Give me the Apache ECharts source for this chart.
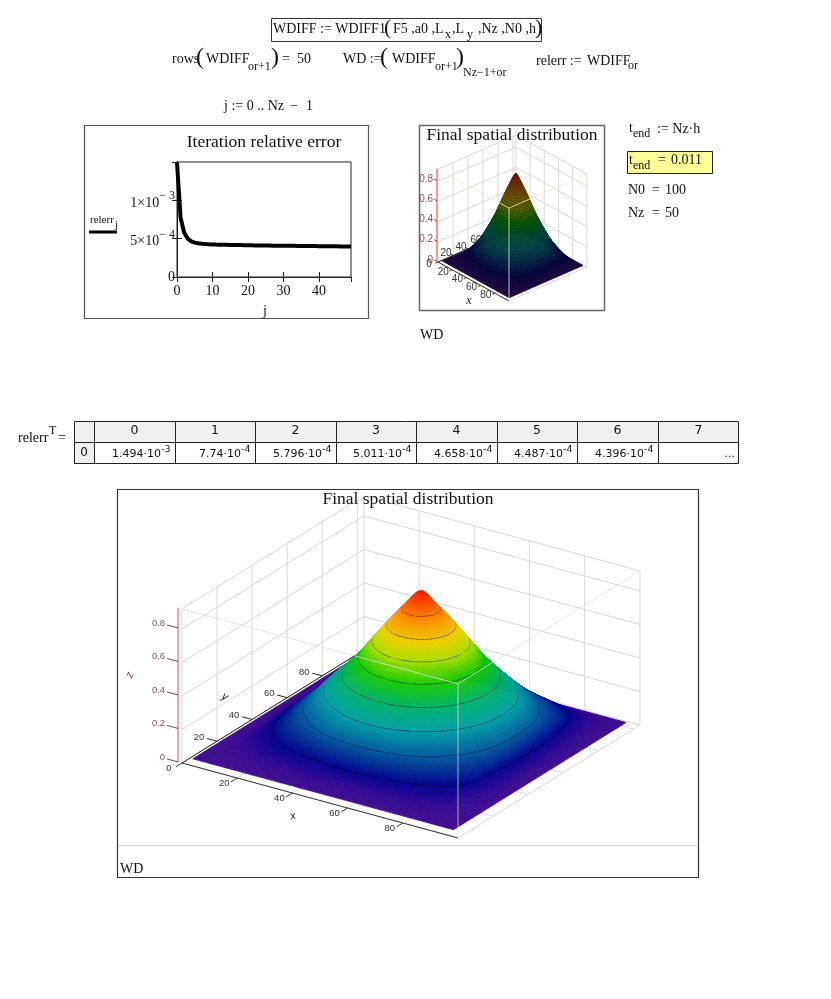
<!DOCTYPE html>
<html><head><meta charset="utf-8">
<style>html,body{margin:0;padding:0;background:#fff}#c{width:831px;height:999px}</style>
<script src="https://cdn.jsdelivr.net/npm/echarts@6/dist/echarts.min.js"></script>
</head><body><div id="c"></div>
<script>
// ---- data ----
const iterations = [0,1,2,3,4,5,6,7,8,9,10,11,12,13,14,15,16,17,18,19,20,21,22,23,24,25,26,27,28,29,30,31,32,33,34,35,36,37,38,39,40,41,42,43,44,45,46,47,48,49];
const relerr = [1.494e-3,7.74e-4,5.796e-4,5.011e-4,4.658e-4,4.487e-4,4.396e-4,4.34e-4,4.30e-4,4.27e-4,4.25e-4,4.23e-4,4.22e-4,4.21e-4,4.20e-4,4.19e-4,4.18e-4,4.17e-4,4.16e-4,4.15e-4,4.14e-4,4.13e-4,4.12e-4,4.12e-4,4.11e-4,4.10e-4,4.10e-4,4.09e-4,4.08e-4,4.08e-4,4.07e-4,4.07e-4,4.06e-4,4.06e-4,4.05e-4,4.05e-4,4.04e-4,4.04e-4,4.03e-4,4.03e-4,4.02e-4,4.02e-4,4.01e-4,4.01e-4,4.00e-4,4.00e-4,3.99e-4,3.99e-4,3.98e-4,3.98e-4];
const tableHead = ['0','1','2','3','4','5','6','7'];
const tableMantissa = ['1.494·10','7.74·10','5.796·10','5.011·10','4.658·10','4.487·10','4.396·10'];
const tableExponent = ['-3','-4','-4','-4','-4','-4','-4'];
const surfaceX = [1,7,12,17,22,27,32,37,42,47,52,57,62,67,72,77,82,87,90,93,95.5];
const surfaceY = [4.5,9.5,14.5,19.5,24.5,29.5,34.5,39.5,44.5,49.5,54.5,59.5,64.5,69.5,74.5,79.5,84.5,89.5,94.5,99.5,103];
const surfaceZ = [
[0,0,0,0,0,0,0,0,0,0,0,0,0,0,0,0,0,0,0,0,0],
[0,.002,.007,.013,.019,.023,.027,.031,.034,.036,.037,.036,.034,.031,.027,.023,.019,.013,.007,.002,0],
[0,.007,.026,.044,.06,.075,.089,.102,.112,.118,.12,.118,.112,.102,.089,.075,.06,.044,.026,.007,0],
[0,.013,.044,.071,.098,.122,.144,.165,.18,.19,.193,.19,.18,.165,.144,.122,.098,.071,.044,.013,0],
[0,.019,.06,.098,.138,.17,.199,.235,.267,.288,.295,.288,.267,.235,.199,.17,.138,.098,.06,.019,0],
[0,.023,.075,.122,.17,.206,.261,.31,.35,.376,.385,.376,.35,.31,.261,.206,.17,.122,.075,.023,0],
[0,.027,.089,.144,.199,.261,.326,.385,.435,.468,.48,.468,.435,.385,.326,.261,.199,.144,.089,.027,0],
[0,.031,.102,.165,.235,.31,.385,.457,.527,.581,.60,.581,.527,.457,.385,.31,.235,.165,.102,.031,0],
[0,.034,.112,.18,.267,.35,.435,.527,.62,.688,.715,.688,.62,.527,.435,.35,.267,.18,.112,.034,0],
[0,.036,.118,.19,.288,.376,.468,.581,.688,.777,.82,.777,.688,.581,.468,.376,.288,.19,.118,.036,0],
[0,.037,.12,.193,.295,.385,.48,.60,.715,.82,.905,.82,.715,.60,.48,.385,.295,.193,.12,.037,0],
[0,.036,.118,.19,.288,.376,.468,.581,.688,.777,.82,.777,.688,.581,.468,.376,.288,.19,.118,.036,0],
[0,.034,.112,.18,.267,.35,.435,.527,.62,.688,.715,.688,.62,.527,.435,.35,.267,.18,.112,.034,0],
[0,.031,.102,.165,.235,.31,.385,.457,.527,.581,.60,.581,.527,.457,.385,.31,.235,.165,.102,.031,0],
[0,.027,.089,.144,.199,.261,.326,.385,.435,.468,.48,.468,.435,.385,.326,.261,.199,.144,.089,.027,0],
[0,.023,.075,.122,.17,.206,.261,.31,.35,.376,.385,.376,.35,.31,.261,.206,.17,.122,.075,.023,0],
[0,.019,.06,.098,.138,.17,.199,.235,.267,.288,.295,.288,.267,.235,.199,.17,.138,.098,.06,.019,0],
[0,.013,.044,.071,.098,.122,.144,.165,.18,.19,.193,.19,.18,.165,.144,.122,.098,.071,.044,.013,0],
[0,.007,.024,.04,.054,.068,.08,.092,.101,.106,.108,.106,.101,.092,.08,.068,.054,.04,.024,.007,0],
[0,.002,.009,.015,.021,.026,.031,.036,.039,.041,.042,.041,.039,.036,.031,.026,.021,.015,.009,.002,0],
[0,0,0,0,0,0,0,0,0,0,0,0,0,0,0,0,0,0,0,0,0]
];
const xyTicks = [20,40,60,80];
const zTicks = [0.2,0.4,0.6,0.8];
const contourLevels = [0.1,0.2,0.3,0.4,0.5,0.6,0.7,0.8];
const colorStops = [[0,[62,10,142]],[0.04,[44,6,146]],[0.1,[0,0,140]],[0.2,[0,90,158]],[0.3,[0,158,166]],[0.4,[0,178,104]],[0.5,[24,204,0]],[0.6,[176,224,0]],[0.68,[240,208,0]],[0.78,[255,140,0]],[0.9,[255,32,0]]];

// ---- layout ----
const SERIF='"Liberation Serif"', SANS='"Liberation Sans"';
const X_MAX=100, Y_MAX=103.8, Z_MAX=0.92;
const bigView={o:[182,763],ex:[2.76,.75],ey:[1.753,-1.089],ez:-167.5,sub:6};
const smallView={o:[438,262],ex:[.71,.39],ey:[.75,-.328],ez:-101,sub:2};

function proj(v,x,y,z){return [v.o[0]+v.ex[0]*x+v.ey[0]*y, v.o[1]+v.ex[1]*x+v.ey[1]*y+v.ez*z];}
function cmap(z){
  for(let k=1;k<colorStops.length;k++){ if(z<=colorStops[k][0]){
    const a=colorStops[k-1],b=colorStops[k],t=(z-a[0])/(b[0]-a[0]);
    return [0,1,2].map(c=>a[1][c]+(b[1][c]-a[1][c])*Math.max(0,t));}}
  return colorStops[colorStops.length-1][1];
}
function rgb(c,m,a){m=m||1;return 'rgba('+c.map(v=>Math.round(v*m)).join(',')+','+(a==null?1:a)+')';}
function cr(p0,p1,p2,p3,t){return .5*(2*p1+(p2-p0)*t+(2*p0-5*p1+4*p2-p3)*t*t+(3*p1-p0-3*p2+p3)*t*t*t);}
function at(a,i){return a[Math.max(0,Math.min(a.length-1,i))];}
function sampleZ(u,v){
  const iu=Math.min(19,Math.floor(u)),iv=Math.min(19,Math.floor(v)),fu=u-iu,fv=v-iv,col=[];
  for(let a=-1;a<=2;a++){const r=at(surfaceZ,iu+a);col.push(cr(at(r,iv-1),at(r,iv),at(r,iv+1),at(r,iv+2),fv));}
  return Math.max(0,cr(col[0],col[1],col[2],col[3],fu));
}
function lin(a,u){const i=Math.min(a.length-2,Math.floor(u));return a[i]+(a[i+1]-a[i])*(u-i);}

function surfaceSeries(v,style){
  const S=v.sub,N=20*S+1,zg=[],pg=[];
  for(let a=0;a<N;a++){zg.push([]);pg.push([]);for(let b=0;b<N;b++){
    const z=sampleZ(a/S,b/S);zg[a].push(z);pg[a].push(proj(v,lin(surfaceX,a/S),lin(surfaceY,b/S),z));}}
  const cells=[];
  for(let i=0;i<20;i++)for(let j=19;j>=0;j--)cells.push([surfaceX[i],surfaceY[j],i,j]);
  return {type:'custom',coordinateSystem:'cartesian2d',xAxisIndex:2,yAxisIndex:2,z:5,silent:true,animation:false,progressive:0,
    encode:{x:0,y:1},data:cells,
    renderItem(params,api){
      const c=cells[params.dataIndex],ch=[];
      for(let si=0;si<S;si++)for(let sj=S-1;sj>=0;sj--){
        const a=c[2]*S+si,b=c[3]*S+sj;
        const qa=[[a,b],[a+1,b],[a+1,b+1],[a,b+1]];
        const pts=qa.map(q=>api.coord(pg[q[0]][q[1]])),zs=qa.map(q=>zg[q[0]][q[1]]);
        const avg=(zs[0]+zs[1]+zs[2]+zs[3])/4;
        const fill=style.fill(avg);
        ch.push({type:'polygon',shape:{points:pts},style:{fill:fill,stroke:style.stroke?style.stroke:fill,lineWidth:style.sw||.6}});
        style.levels.forEach(L=>{
          const cross=[];
          for(let e=0;e<4;e++){const f=(e+1)%4,z0=zs[e],z1=zs[f];
            if((z0<L)!==(z1<L)){const t=(L-z0)/(z1-z0);cross.push([pts[e][0]+(pts[f][0]-pts[e][0])*t,pts[e][1]+(pts[f][1]-pts[e][1])*t]);}}
          if(cross.length>=2)ch.push({type:'line',shape:{x1:cross[0][0],y1:cross[0][1],x2:cross[1][0],y2:cross[1][1]},style:{stroke:style.lineColor(L),lineWidth:style.lw}});
        });
      }
      return {type:'group',children:ch};
    }};
}
function segSeries(v,segs,color,width,z){
  return {type:'custom',coordinateSystem:'cartesian2d',xAxisIndex:2,yAxisIndex:2,z:z,silent:true,animation:false,progressive:0,
    encode:{x:0,y:1},data:segs.map(s=>[Math.abs(s[0]),Math.abs(s[1])]),
    renderItem(params,api){
      const s=segs[params.dataIndex],p=api.coord(proj(v,s[0],s[1],s[2])),q=api.coord(proj(v,s[3],s[4],s[5]));
      return {type:'line',shape:{x1:p[0],y1:p[1],x2:q[0],y2:q[1]},style:{stroke:color,lineWidth:width}};
    }};
}
function labelSeries(v,items,opt,z){
  return {type:'custom',coordinateSystem:'cartesian2d',xAxisIndex:2,yAxisIndex:2,z:z,silent:true,animation:false,progressive:0,
    encode:{x:0,y:1},data:items.map(s=>[Math.abs(s[0]),Math.abs(s[1])]),
    renderItem(params,api){
      const s=items[params.dataIndex],p=api.coord(proj(v,s[0],s[1],s[2]));
      return {type:'text',style:{text:s[3],x:p[0]+opt.dx,y:p[1]+opt.dy,font:opt.font,fill:opt.fill,align:opt.align||'center',verticalAlign:'middle'}};
    }};
}
function wallSegs(){
  const s=[],zs=[0].concat(zTicks,[Z_MAX]),grid=[0].concat(xyTicks,[100]);
  grid.forEach(y=>s.push([0,y,0,0,y,Z_MAX]));
  s.push([0,Y_MAX,0,0,Y_MAX,Z_MAX]);
  zs.forEach(z=>{s.push([0,0,z,0,Y_MAX,z]);s.push([0,Y_MAX,z,X_MAX,Y_MAX,z]);});
  grid.slice(1).forEach(x=>s.push([x,Y_MAX,0,x,Y_MAX,Z_MAX]));
  grid.forEach(x=>s.push([x,0,0,x,Y_MAX,0]));
  grid.forEach(y=>s.push([0,y,0,X_MAX,y,0]));
  return s;
}
const frontSegs=[[X_MAX,0,0,X_MAX,0,Z_MAX],[0,0,Z_MAX,X_MAX,0,Z_MAX],[X_MAX,0,Z_MAX,X_MAX,Y_MAX,Z_MAX]];
const xTickSegs=[0].concat(xyTicks).map(x=>[x,-3.5,0,x,0,0]).concat([[0,0,0,X_MAX,0,0]]);
const yTickSegs=xyTicks.map(y=>[-3.6,y,0,0,y,0]).concat([[0,0,0,0,Y_MAX,0]]);
const zTickSegs=[0].concat(zTicks).map(z=>[-5.4,0,z,-1.45,0,z]);
const zAxisSeg=[[-1.45,0,0,-1.45,0,Z_MAX]];
const xLabels=[0].concat(xyTicks).map(x=>[x,0,0,String(x)]);
const yLabels=xyTicks.map(y=>[0,y,0,String(y)]);
const zLabels=[0].concat(zTicks).map(z=>[-5.4,0,z,String(z)]);

function plot3d(v,o){
  return [
    segSeries(v,wallSegs(),'#d9d9d9',1,2),
    segSeries(v,zAxisSeg,'#d66a6a',1.2,3),
    segSeries(v,zTickSegs,'#8a3a4a',1,3),
    labelSeries(v,zLabels,{dx:o.zdx,dy:o.zdy,font:o.font,fill:'#8a4f60',align:'right'},3),
    segSeries(v,yTickSegs,'#222',1,3),
    labelSeries(v,yLabels,{dx:o.ydx,dy:o.ydy,font:o.font,fill:'#333'},3),
    segSeries(v,xTickSegs,'#333',1,3),
    labelSeries(v,xLabels,{dx:o.xdx,dy:o.xdy,font:o.font,fill:'#333'},3),
    surfaceSeries(v,o.surface),
    segSeries(v,frontSegs,o.front,1,8)
  ];
}
const bigSeries=plot3d(bigView,{font:'9.5px '+SANS,xdx:-13,xdy:5,ydx:-18,ydy:-4,zdx:-2,zdy:-2,front:'rgba(222,222,222,.75)',
  surface:{fill:z=>rgb(cmap(z)),levels:contourLevels,lineColor:()=>'rgba(0,0,0,.6)',lw:.8}});
const smallSeries=plot3d(smallView,{font:'10px '+SANS,xdx:-9,xdy:2,ydx:-7,ydy:-2,zdx:-1,zdy:0,front:'rgba(235,235,215,.8)',
  surface:{fill:z=>rgb(cmap(z),.38),levels:[.02,.045,.07,.095,.12,.145,.17,.195,.22,.245,.27,.295,.32,.345,.37,.395,.42,.445,.47,.495,.52,.545,.57,.595,.62,.645,.67,.695,.72,.745,.77,.795,.82,.845,.87],
    lineColor:L=>rgb(cmap(L),.8,.5),lw:.5,sw:.6}});

// ---- text & frames ----
const G=[];
function txt(s,x,y,size,o){o=o||{};G.push({type:'text',silent:true,z:o.z||20,style:{text:s,x:x,y:y,font:(o.style?o.style+' ':'')+size+'px '+(o.fam||SERIF),fill:o.fill||'#111',align:o.align||'left',verticalAlign:'middle'},rotation:o.rot||0,originX:x,originY:y});}
function box(x,y,w,h,stroke,lw,fill,z){G.push({type:'rect',silent:true,z:z||1,shape:{x:x,y:y,width:w,height:h},style:{fill:fill||'none',stroke:stroke,lineWidth:lw}});}
function hline(x1,y1,x2,y2,c,lw){G.push({type:'line',silent:true,z:2,shape:{x1,y1,x2,y2},style:{stroke:c,lineWidth:lw}});}

// formula row 1
box(271.5,18.5,270,23,'#333',1);
txt('WDIFF := WDIFF1',273,29,14);
txt('(',384,28,22);
txt('F5 ,a0 ,L',393,29,14);txt('x',445,35,12);
txt(',L',452,29,14);txt('y',467,35,12);
txt(',Nz ,N0 ,h',478,29,14);
txt(')',535,28,22);
// formula row 2
txt('rows',172,59,14);txt('(',196,58,24);txt('WDIFF',206,59,14);txt('or+1',248,67,12);txt(')',271,58,24);txt('=',282,59,14);txt('50',297,59,14);
txt('WD :=',343,59,14);txt('(',380,58,24);txt('WDIFF',392,59,14);txt('or+1',435,67,12);txt(')',456,58,24);txt('Nz−1+or',463,73,12);
txt('relerr :=',536,61,14);txt('WDIFF',587,61,14);txt('or',628,66,12);
txt('j := 0 .. Nz',224,106,14);txt('−',290,106,14);txt('1',306,106,14);
// right-hand definitions
txt('t',629,128,14);txt('end',633,134,12);txt(':= Nz·h',657,129,14);
box(627.5,151.5,85,22,'#222',1,'#ffff99',1);
txt('t',629,160,14);txt('end',633,166,12);txt('=',658,160,14);txt('0.011',671,160,14);
txt('N0',628,190,14);txt('=',652,190,14);txt('100',665,190,14);txt('Nz',628,213,14);txt('=',652,213,14);txt('50',665,213,14);
// line chart frame
box(84.5,125.5,284,193,'#555',1.2);
txt('Iteration relative error',264,142,17.5,{align:'center'});
txt('relerr',90,220,11);txt('j',115,225,11);
hline(89,232,117,232,'#000',3);
txt('j',265,311,14,{align:'center'});
// small 3D frame
box(419.5,125.5,185,185,'#666',1.5);
txt('Final spatial distribution',512,135,17.5,{align:'center'});
txt('x',469,301,12,{align:'center',style:'italic'});
txt('WD',420,335,14);
// table
txt('relerr',18,438,14);txt('T',49,431,12);txt('=',58,438,14);
const colX=[74,94,175,255,336,416,497,577,658,739];
box(74.5,421.5,664,21,'#222',1,'#f0f0f0',1);
box(74.5,442.5,664,21,'#222',1,'#fff',1);
box(74.5,442.5,20,21,'#222',1,'#f0f0f0',1);
colX.slice(1,-1).forEach(x=>hline(x+.5,421.5,x+.5,463.5,'#222',1));
tableHead.forEach((h,i)=>txt(h,(colX[i+1]+colX[i+2])/2,431,12.5,{align:'center',fam:'"DejaVu Sans"'}));
txt('0',84,453,12,{align:'center',fam:'"DejaVu Sans"'});
tableMantissa.forEach((m,i)=>{const r=colX[i+2]-3;
  txt(m,r-11,454,11,{align:'right',fam:'"DejaVu Sans"'});
  txt(tableExponent[i],r-11,450,9.5,{fam:'"DejaVu Sans"'});});
txt('...',735,454,11,{align:'right',fam:'"DejaVu Sans"'});
// big 3D frame
box(117.5,489.5,581,388,'#333',1.2);
hline(118,845.5,698,845.5,'#d8d8d8',1);
txt('Final spatial distribution',408,499,17.5,{align:'center'});
txt('WD',120,869,14);
txt('x',293,816,11,{align:'center',style:'italic',fam:SANS,rot:.25});
txt('y',225,697,11,{align:'center',style:'italic',fam:SANS,rot:-.5});
txt('z',130,675,11,{align:'center',style:'italic',fill:'#8a3a4a',fam:SANS,rot:1.2});

const fmtY=v=>v===0?'0':(Math.abs(v-5e-4)<1e-9?'{b|5×10}{s|− 4}':(Math.abs(v-1e-3)<1e-9?'{b|1×10}{s|− 3}':''));
const axisLine={lineStyle:{color:'#222',width:1}};
const option={
  animation:false,backgroundColor:'#fff',
  grid:[{left:177,top:162,width:174,height:115,show:true,borderColor:'#222',borderWidth:1,backgroundColor:'transparent'},
        {left:0,top:0,width:831,height:999,show:false}],
  xAxis:[
    {gridIndex:0,type:'value',min:0,max:49,interval:10,position:'bottom',splitLine:{show:false},axisLine:axisLine,axisTick:{inside:true,length:5,lineStyle:{color:'#222'}},
     axisLabel:{fontFamily:'Liberation Serif',fontSize:14,color:'#111',margin:7,showMaxLabel:false}},
    {gridIndex:0,type:'value',min:0,max:49,interval:10,position:'top',splitLine:{show:false},axisLine:axisLine,axisTick:{inside:true,length:5,lineStyle:{color:'#222'}},axisLabel:{show:false}},
    {gridIndex:1,type:'value',min:0,max:831,show:false}
  ],
  yAxis:[
    {gridIndex:0,type:'value',min:0,max:0.0015,interval:0.0005,position:'left',splitLine:{show:false},axisLine:axisLine,axisTick:{inside:true,length:5,lineStyle:{color:'#222'}},
     axisLabel:{margin:2,showMaxLabel:false,formatter:fmtY,fontFamily:'Liberation Serif',fontSize:14,color:'#111',
       rich:{b:{fontFamily:'Liberation Serif',fontSize:14,color:'#111',lineHeight:20,verticalAlign:'bottom'},s:{fontFamily:'Liberation Serif',fontSize:12,color:'#111',lineHeight:20,verticalAlign:'top'}}}},
    {gridIndex:0,type:'value',min:0,max:0.0015,interval:0.0005,position:'right',splitLine:{show:false},axisLine:axisLine,axisTick:{inside:true,length:5,lineStyle:{color:'#222'}},axisLabel:{show:false}},
    {gridIndex:1,type:'value',min:0,max:999,inverse:true,show:false}
  ],
  graphic:{elements:G},
  series:[{type:'line',xAxisIndex:0,yAxisIndex:0,data:iterations.map((j,i)=>[j,relerr[i]]),showSymbol:false,silent:true,z:4,lineStyle:{color:'#000',width:4},clip:false}]
    .concat(smallSeries,bigSeries)
};
echarts.init(document.getElementById('c')).setOption(option);
</script></body></html>
